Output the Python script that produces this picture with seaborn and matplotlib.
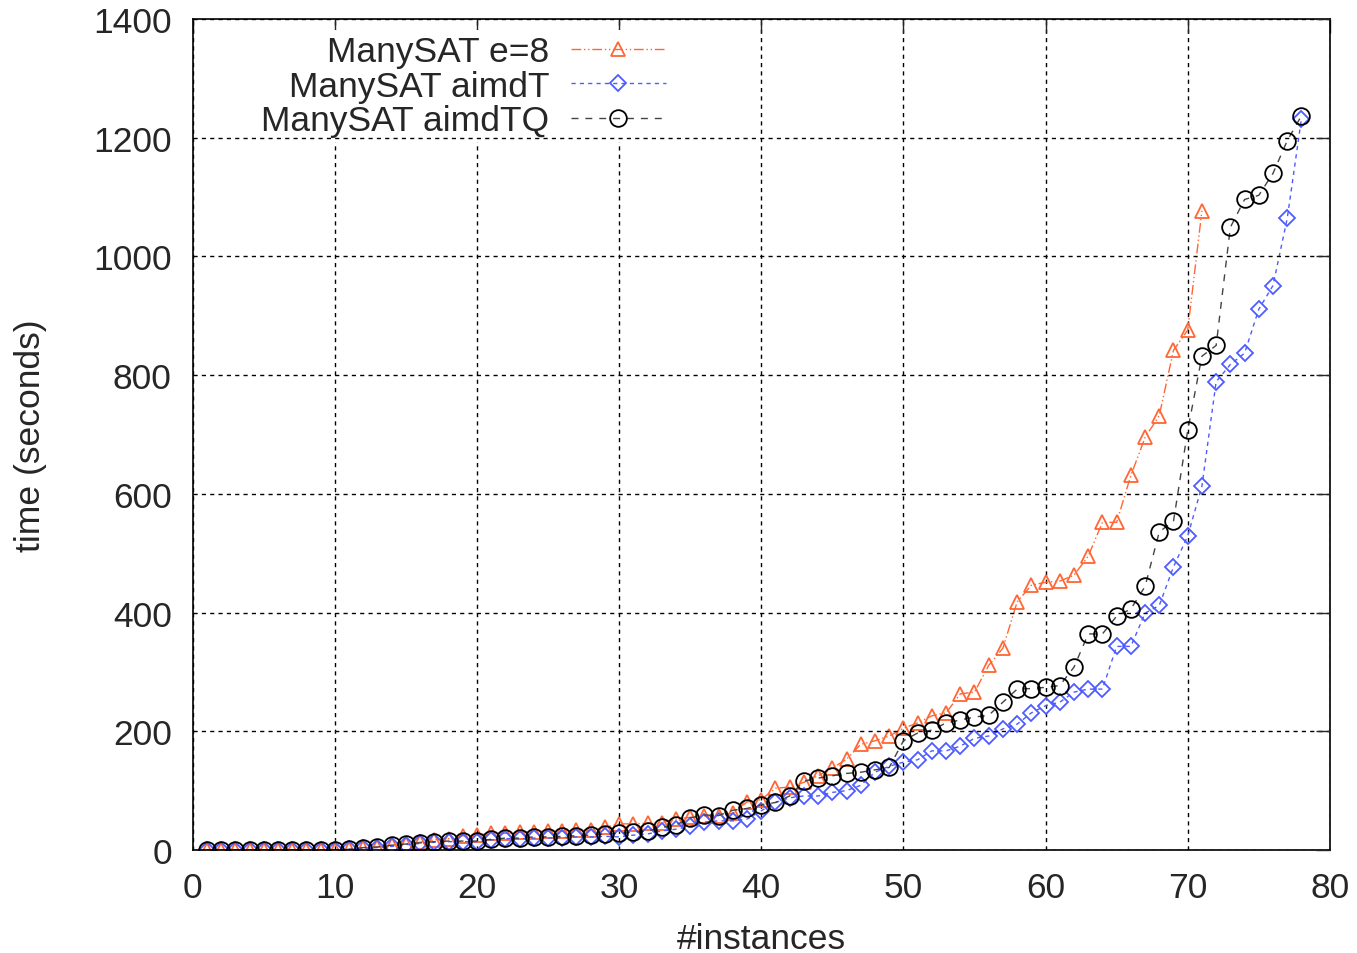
import matplotlib
matplotlib.use("Agg")
import matplotlib.pyplot as plt
import seaborn as sns
import numpy as np

# values (time in seconds, sorted per solver)
e8_time = [0, 0, 0, 0, 0, 0, 0, 0, 0, 0, 1,
           3, 5, 8, 10, 13, 17, 19, 24, 25, 28, 28, 30, 31, 32, 32, 33, 33, 38, 44,
           44, 45, 46, 52, 55, 57, 58, 62, 81, 85, 104, 106, 114, 125, 138, 153, 178, 184, 192, 205,
           214, 226, 231, 263, 266, 311, 340, 418, 446, 451, 453, 463, 495, 552, 552, 631, 695, 732, 842, 876,
           1077]
aimdT_time = [0, 0, 0, 0, 0, 0, 0, 0, 0, 0, 1,
              3, 4, 6, 9, 11, 13, 14, 14, 14, 17, 19, 19, 20, 20, 21, 22, 22, 23, 22,
              25, 27, 32, 35, 40, 47, 49, 49, 52, 66, 80, 88, 91, 91, 97, 100, 109, 131, 141, 148,
              152, 167, 167, 175, 188, 192, 204, 212, 231, 243, 249, 266, 271, 271, 343, 343, 399, 412, 477, 529,
              613, 789, 818, 837, 911, 951, 1064, 1232]
aimdTQ_time = [0, 0, 0, 0, 0, 0, 0, 0, 0, 0, 1,
               4, 5, 8, 10, 12, 14, 15, 15, 15, 18, 20, 20, 22, 22, 23, 24, 25, 27, 28,
               30, 32, 38, 42, 54, 59, 58, 67, 70, 76, 80, 91, 116, 121, 125, 129, 131, 135, 139, 184,
               197, 202, 214, 219, 224, 227, 249, 271, 272, 274, 277, 308, 364, 364, 394, 406, 444, 536, 554, 707,
               832, 850, 1049, 1096, 1103, 1140, 1195, 1237]

e8_x = list(range(1, len(e8_time) + 1))
aimdT_x = list(range(1, len(aimdT_time) + 1))
aimdTQ_x = list(range(1, len(aimdTQ_time) + 1))

sns.set_style("white")
plt.rcParams['font.family'] = ['Liberation Sans', 'DejaVu Sans']
FS = 25.5

fig = plt.figure(figsize=(13.57, 9.54), dpi=100)
ax = fig.add_axes([0.142, 0.108, 0.838, 0.871])

sns.lineplot(x=e8_x, y=e8_time, ax=ax, color="#ff6633", linewidth=1,
             linestyle=(0, (7, 2, 1, 2, 1, 2)), marker="^", markersize=10.5,
             markerfacecolor="none", markeredgecolor="#ff6633", markeredgewidth=1.3,
             label="ManySAT e=8")
sns.lineplot(x=aimdT_x, y=aimdT_time, ax=ax, color="#4d5cff", linewidth=1,
             linestyle=(0, (3, 3)), marker="D", markersize=8.5,
             markerfacecolor="none", markeredgecolor="#4d5cff", markeredgewidth=1.3,
             label="ManySAT aimdT")
sns.lineplot(x=aimdTQ_x, y=aimdTQ_time, ax=ax, color="#444444", linewidth=1,
             linestyle=(0, (5, 5)), marker="o", markersize=12,
             markerfacecolor="none", markeredgecolor="black", markeredgewidth=1.3,
             label="ManySAT aimdTQ")

ax.set_xlim(0, 80)
ax.set_ylim(0, 1400)
ax.set_xticks(range(0, 81, 10))
ax.set_yticks(range(0, 1401, 200))
ax.grid(True, color="black", linestyle=(0, (3, 3)), linewidth=1)
ax.tick_params(direction="in", length=10, width=1, top=True, right=True,
               labelsize=FS, pad=15)
for s in ax.spines.values():
    s.set_color("black")
    s.set_linewidth(1.2)
# horizontal grid stays visible over the legend box
ax.yaxis.set_zorder(5.5)

ax.set_xlabel("#instances", fontsize=FS)
ax.set_ylabel("time (seconds)", fontsize=FS)
ax.xaxis.set_label_coords(0.5, -0.087)
ax.yaxis.set_label_coords(-0.128, 0.5)

leg = ax.legend(loc="upper right", bbox_to_anchor=(0.421, 0.987), frameon=True,
                markerfirst=False, fontsize=FS, handlelength=2.7, handletextpad=0.6,
                labelspacing=0.04, borderaxespad=0.0, borderpad=0.15,
                fancybox=False, framealpha=1)
leg.get_frame().set_facecolor("white")
leg.get_frame().set_edgecolor("none")
leg.set_zorder(5)

fig.savefig("out.png", dpi=100)
